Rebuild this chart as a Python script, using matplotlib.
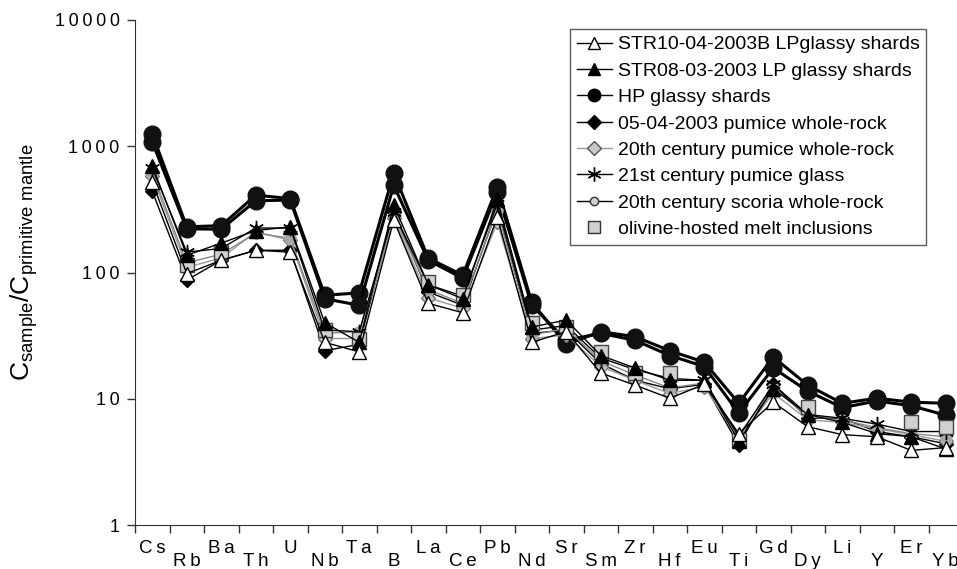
import numpy as np
import matplotlib
matplotlib.use("Agg")
import matplotlib.pyplot as plt
from matplotlib.lines import Line2D

plt.rcParams['font.family'] = ['Liberation Sans', 'DejaVu Sans']
plt.rcParams['mathtext.fontset'] = 'custom'
plt.rcParams['mathtext.rm'] = 'Liberation Sans'

nan = np.nan
elements = ["Cs", "Rb", "Ba", "Th", "U", "Nb", "Ta", "B", "La", "Ce", "Pb", "Nd",
            "Sr", "Sm", "Zr", "Hf", "Eu", "Ti", "Gd", "Dy", "Li", "Y", "Er", "Yb"]
ytick_labels = ['1', '10', '100', '1000', '10000']

# values (normalised to primitive mantle)
str10 = [520, 98, 125, 150, 145, 28, 23.5, 260, 57, 48, 275, 28,
         34, 16, 12.8, 10.1, 13, 5.3, 9.4, 6.0, 5.2, 5.0, 3.9, 4.1]
str08 = [700, 137, 171, 215, 230, 40, 28, 342, 80, 62, 380, 37,
         42, 22, 17.5, 14, 14, 4.6, 12, 7.5, 6.5, 5.3, 5.0, 4.0]
hp_a = [1250, 230, 235, 410, 385, 66, 69, 612, 130, 95, 475, 58,
        27, 34, 31, 24, 19.5, 9.2, 21.4, 12.8, 9.2, 10.1, 9.4, 9.2]
hp_b = [1080, 222, 220, 370, 375, 62, 55, 490, 125, 90, 433, 55,
        29, 33, 29, 22, 18, 7.7, 17.5, 11.5, 8.5, 9.6, 8.8, 7.4]
pum0504 = [440, 87, 125, 150, 150, 24, 27, 300, 70, 55, 320, 33,
           35, 19, 14, 12, 13, 4.3, 13, 7.0, 7.0, 5.5, 5.0, 4.4]
pum20 = [580, 110, 130, 210, 180, 30, 30, 270, 63, 52, 250, 30,
         32, 18, 14, 11, 12.5, 4.8, 11.1, 6.8, 6.5, 5.8, 5.2, 4.6]
glass21 = [670, 145, 155, 225, 225, 35, 34, 300, 80, 65, 350, 35,
           38, 21, 17, 14.5, 14, 5.0, 13, 7.5, 7.0, 6.3, 5.5, 5.5]
scoria20 = [620, 119, 140, 205, 187, 33, 34, 280, 73, 57, 312, 32,
            36, 20, 15.4, 12.2, 13.3, 5.2, 12.2, 7.2, 6.8, 5.9, 5.3, 5.0]
melt_inc = [nan, 115, 145, nan, nan, 35, 30, nan, 84, 66, nan, 40,
            37, 23.5, 16, 16, nan, 4.7, nan, 8.6, nan, nan, 6.5, 6.0]

legend_labels = ["STR10-04-2003B LPglassy shards", "STR08-03-2003 LP glassy shards",
                 "HP glassy shards", "05-04-2003 pumice whole-rock",
                 "20th century pumice whole-rock", "21st century pumice glass",
                 "20th century scoria whole-rock", "olivine-hosted melt inclusions"]

def spaced(s):
    # the original uses loose letter spacing
    return '\u2009'.join(s)

x = np.arange(len(elements))

fig = plt.figure(figsize=(9.57, 5.69), dpi=100)
ax = fig.add_axes([135 / 957, 44 / 569, 828 / 957, 505 / 569])

hp_style = dict(color='black', lw=2.2, marker='o', ms=12, mfc='#111111', mec='#111111')
ax.plot(x, hp_a, **hp_style)
ax.plot(x, hp_b, **hp_style)
ax.plot(x, pum0504, color='black', lw=1, marker='D', ms=7, mfc='black', mec='black')
ax.plot(x, pum20, color='#999999', lw=1, marker='D', ms=7, mfc='#c8c8c8', mec='#777777')
ax.plot(x, scoria20, color='#888888', lw=1, marker='o', ms=8, mfc='#a8a8a8', mec='#a8a8a8')
ax.plot(x, glass21, color='black', lw=1, marker=(6, 2, 0), ms=11, mec='black', mew=1)
ax.plot(x, melt_inc, ls='none', marker='s', ms=10, mfc='#d0d0d0', mec='#444444', mew=1)
ax.plot(x, str08, color='black', lw=1, marker='^', ms=10, mfc='black', mec='black')
ax.plot(x, str10, color='black', lw=1, marker='^', ms=10, mfc='white', mec='black')

ax.set_yscale('log')
ax.set_ylim(1, 10000)
ax.set_xlim(-0.5, len(elements) - 0.5)
ax.set_yticks([1, 10, 100, 1000, 10000])
ax.set_yticklabels([spaced(t) for t in ytick_labels], fontsize=13)
ax.yaxis.set_minor_locator(matplotlib.ticker.NullLocator())
ax.set_xticks(np.arange(len(elements) + 1) - 0.5)
ax.set_xticklabels([])
ax.tick_params(axis='both', direction='out', length=6, width=1, color='#333333', pad=5)
for s in ['top', 'right']:
    ax.spines[s].set_visible(False)
for s in ['left', 'bottom']:
    ax.spines[s].set_color('#333333')

# staggered element labels
for i, el in enumerate(elements):
    off = -17 if i % 2 == 0 else -26
    ax.annotate(spaced(el), xy=(i, 0), xycoords=('data', 'axes fraction'),
                xytext=(0, off), textcoords='offset points',
                ha='center', va='center', fontsize=13.5)

ax.set_ylabel(r'C$_{\mathrm{sample}}$/C$_{\mathrm{primitive\ mantle}}$', fontsize=19)
ax.yaxis.set_label_coords(-0.115, 0.52)

# legend with proxy handles
handles = [
    Line2D([], [], color='black', lw=1, marker='^', ms=9, mfc='white', mec='black'),
    Line2D([], [], color='black', lw=1, marker='^', ms=9, mfc='black', mec='black'),
    Line2D([], [], color='black', lw=1, marker='o', ms=9, mfc='black', mec='black'),
    Line2D([], [], color='black', lw=1, marker='D', ms=7, mfc='black', mec='black'),
    Line2D([], [], color='#999999', lw=1, marker='D', ms=7, mfc='#c8c8c8', mec='#555555'),
    Line2D([], [], color='black', lw=1, marker=(6, 2, 0), ms=10, mec='black'),
    Line2D([], [], color='black', lw=1, marker='o', ms=6, mfc='#d0d0d0', mec='#333333'),
    Line2D([], [], ls='none', marker='s', ms=8, mfc='#d0d0d0', mec='#333333'),
]
leg = fig.legend(handles, legend_labels, loc='upper left',
                 bbox_to_anchor=(570 / 957, 1 - 29 / 569), bbox_transform=fig.transFigure,
                 fontsize=14, frameon=True, fancybox=False, edgecolor='#333333',
                 handlelength=1.8, handletextpad=0.3, labelspacing=0.45,
                 borderpad=0.35, borderaxespad=0)
leg.get_frame().set_linewidth(1)

fig.savefig('out.png', dpi=100)
